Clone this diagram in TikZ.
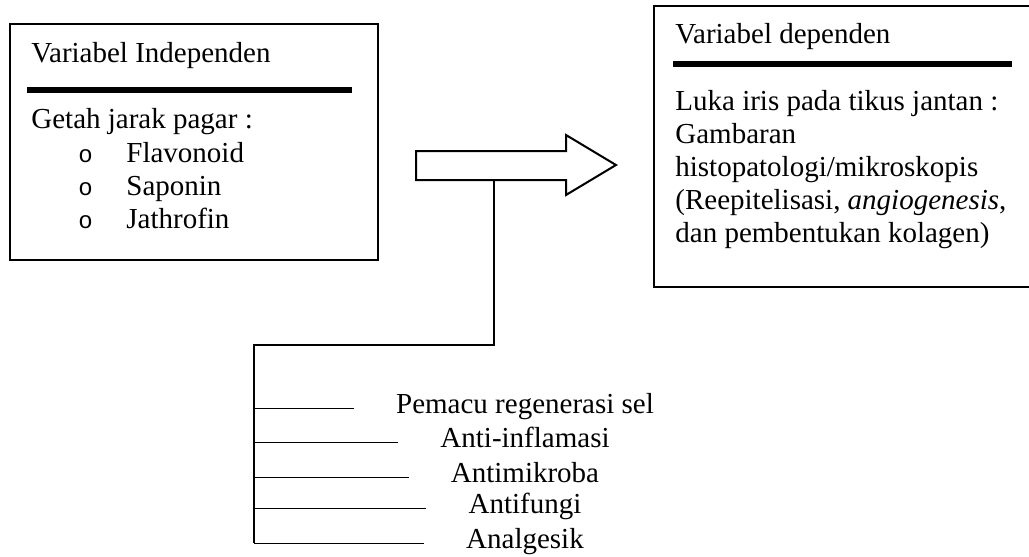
\documentclass[tikz,border=0pt]{standalone}
\usepackage{fontspec}
\setmainfont{Liberation Serif}
\newfontfamily\bulletfont{Liberation Mono}
\usetikzlibrary{positioning,calc}

\tikzset{
  varbox/.style={draw,line width=1pt,anchor=north west,inner sep=0pt},
  headrule/.style={line width=3pt},
  txt/.style={inner sep=0pt,anchor=base west,font=\fontsize{14.5}{16.5}\selectfont},
  effect/.style={inner sep=0pt,anchor=base,font=\fontsize{14.5}{16.5}\selectfont},
  link/.style={line width=0.8pt}
}

\begin{document}
\begin{tikzpicture}[x=0.5pt,y=-0.5pt]
  \clip (0,0) rectangle (1029,557);

  % independent variable
  \node[varbox,minimum width=184pt,minimum height=118pt] (indep) at (9,23) {};
  \node[txt] (indeptitle) at (31,62) {Variabel Independen};
  \draw[headrule] (27,90) -- (352,90);
  \node[txt] (getah) at (31,128) {Getah jarak pagar :};
  \foreach \name [count=\i] in {Flavonoid,Saponin,Jathrofin} {
    \node[txt] (bul\i) at (78,{129+33*\i}) {\bulletfont\fontsize{12}{14}\selectfont o};
    \node[txt] (comp\i) at (126,{129+33*\i}) {\name};
  }

  % dependent variable
  \node[varbox,minimum width=200pt,minimum height=140.5pt] (dep) at (653,5) {};
  \node[txt] (deptitle) at (675,43) {Variabel dependen};
  \draw[headrule] (673,64) -- (1012,64);
  \foreach \txtline [count=\i] in {{Luka iris pada tikus jantan :},{Gambaran},
      {histopatologi/mikroskopis},{(Reepitelisasi, \textit{angiogenesis},},
      {dan pembentukan kolagen)}} {
    \node[txt] (luka\i) at (675,{77+33*\i}) {\txtline};
  }

  % block arrow
  \draw[line width=1pt,line join=miter] (416,151) -- (566,151) -- (566,135)
    -- (616,165) -- (566,195) -- (566,180) -- (416,180) -- cycle;
  \coordinate (stem) at (494,180);
  \coordinate (elbow) at (254,345);

  % effects
  \foreach \name/\y [count=\i] in {Pemacu regenerasi sel/413,Anti-inflamasi/447,
      Antimikroba/482,Antifungi/513,Analgesik/548} {
    \node[effect] (eff\i) at (525,\y) {\name};
  }
  \draw[link] (stem) |- (elbow) -- (elbow |- eff5.mid west);
  \foreach \i in {1,...,5} {
    \draw[link] (elbow |- eff\i.mid west) -- ([xshift=-21pt]eff\i.mid west);
  }
\end{tikzpicture}
\end{document}
